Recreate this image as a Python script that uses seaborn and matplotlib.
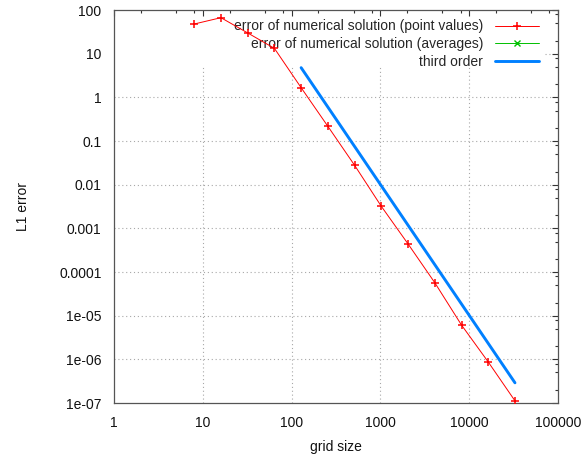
import matplotlib
matplotlib.use('Agg')
import matplotlib.pyplot as plt
import matplotlib.ticker as mticker
import seaborn as sns
import pandas as pd

# data
grid_sizes = [8, 16, 32, 64, 128, 256, 512, 1024, 2048, 4096, 8192, 16384, 32768]
err_point = [48, 67, 30, 13.3, 1.67, 0.218, 0.0279, 0.0032, 0.00044,
             5.7e-05, 6.1e-06, 8.7e-07, 1.12e-07]
err_avg = []          # hidden in the reference, only shown in the key
avg_sizes = []
third_x = [128, 32768]
third_y = [4.8, 2.9e-07]

x_ticks = [1, 10, 100, 1000, 10000, 100000]
x_labels = ['1', '10', '100', '1000', '10000', '100000']
y_ticks = [1e-07, 1e-06, 1e-05, 1e-04, 1e-03, 1e-02, 1e-01, 1, 10, 100]
y_labels = ['1e-07', '1e-06', '1e-05', '0.0001', '0.001', '0.01', '0.1', '1', '10', '100']

sns.set_theme(style='white')
plt.rcParams['font.family'] = ['Liberation Sans', 'DejaVu Sans']
plt.rcParams['font.size'] = 10

df3 = pd.DataFrame({'grid size': third_x, 'L1 error': third_y})

fig = plt.figure(figsize=(5.84, 4.59), dpi=100)
ax = fig.add_axes([0.1952, 0.122, 0.7603, 0.856])
ax.set_xscale('log')
ax.set_yscale('log')

# gnuplot style grid, blanked where the key sits
grid_kw = dict(color='#a8a8a8', lw=0.8, ls=(0, (1, 2.5)), zorder=0.5)
for xv in x_ticks[1:-1]:
    ax.axvline(xv, ymax=0.855, **grid_kw)
for yv in y_ticks[1:-2]:
    ax.axhline(yv, **grid_kw)
ax.axhline(y_ticks[-2], xmin=0.97, **grid_kw)

ax.plot(grid_sizes, err_point, color='#ff0000', ls='-', lw=0.7, marker='+',
        markersize=5.5, markeredgewidth=1.1,
        label='error of numerical solution (point values)', zorder=3)
ax.plot(avg_sizes, err_avg, color='#00c000', ls='-', lw=0.7, marker='x',
        markersize=4.5, label='error of numerical solution (averages)', zorder=3)
sns.lineplot(data=df3, x='grid size', y='L1 error', ax=ax, color='#0080ff',
             lw=2.1, label='third order', zorder=2)

ax.set_xlim(1, 100000)
ax.set_ylim(1e-07, 100)
ax.xaxis.set_major_locator(mticker.FixedLocator(x_ticks))
ax.xaxis.set_major_formatter(mticker.FixedFormatter(x_labels))
ax.yaxis.set_major_locator(mticker.FixedLocator(y_ticks))
ax.yaxis.set_major_formatter(mticker.FixedFormatter(y_labels))
ax.xaxis.set_minor_locator(mticker.LogLocator(base=10, subs=[2, 5, 8], numticks=20))
ax.yaxis.set_minor_locator(mticker.LogLocator(base=10, subs=[2, 5, 8], numticks=20))
ax.xaxis.set_minor_formatter(mticker.NullFormatter())
ax.yaxis.set_minor_formatter(mticker.NullFormatter())
ax.tick_params(which='both', direction='in', top=True, right=True,
               color='#333333', width=0.8, labelsize=10, labelcolor='#111111')
ax.tick_params(which='major', length=4.5, pad=9)
ax.tick_params(which='minor', length=2.5)
for sp in ax.spines.values():
    sp.set_color('#555555')
    sp.set_linewidth(0.9)

ax.set_xlabel('grid size', fontsize=10, color='#111111')
ax.set_ylabel('L1 error', fontsize=10, color='#111111')
ax.xaxis.set_label_coords(0.5, -0.095)
ax.yaxis.set_label_coords(-0.19, 0.5)

leg = ax.legend(loc='upper right', frameon=False, markerfirst=False, fontsize=10,
                handlelength=3.1, handletextpad=0.9, labelspacing=0.28,
                borderaxespad=0.3, borderpad=0.4,
                bbox_to_anchor=(0.978, 1.001))
leg.set_zorder(1)

fig.savefig('out.png', dpi=100)
